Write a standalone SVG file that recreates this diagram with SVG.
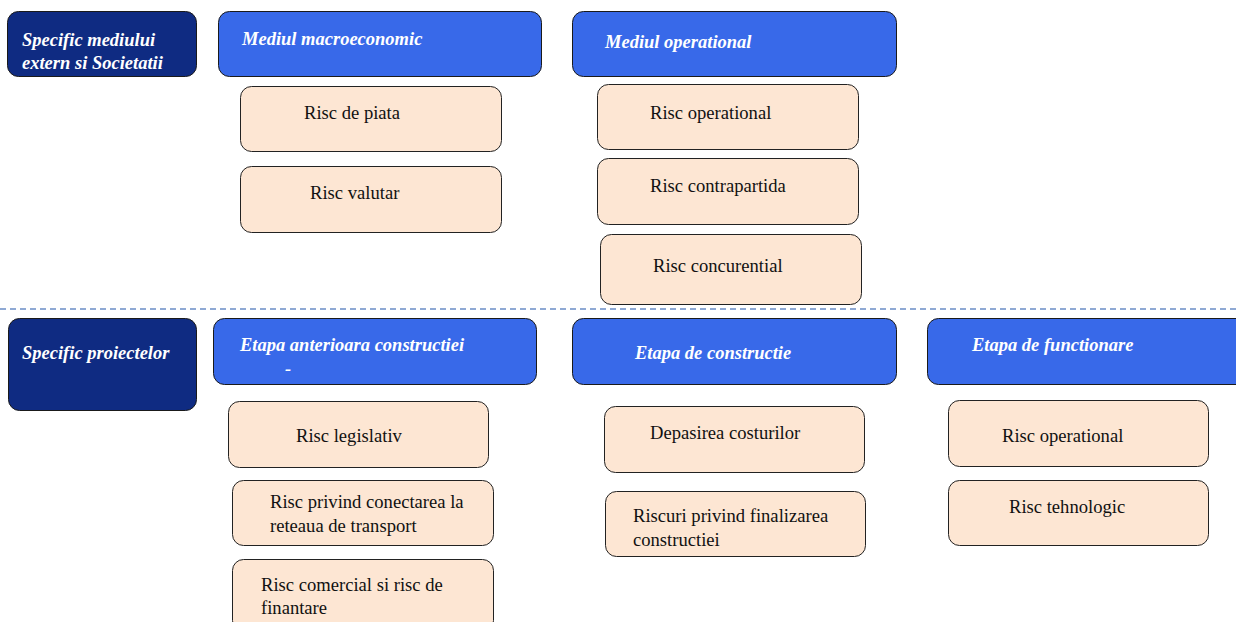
<svg xmlns="http://www.w3.org/2000/svg" width="1236" height="622" viewBox="0 0 1236 622">
<style>
.dark{fill:#0f2b82;stroke:#1a1a1a;stroke-width:1}
.hdr{fill:#3869e9;stroke:#1a1a1a;stroke-width:1}
.item{fill:#fde6d3;stroke:#222;stroke-width:1}
.ht{font-family:"Liberation Serif",serif;font-weight:bold;font-style:italic;font-size:18.5px;fill:#fff}
.it{font-family:"Liberation Serif",serif;font-size:18.6px;fill:#111}
.sep{stroke:#8fa9d4;stroke-width:2;stroke-dasharray:6 4;fill:none}
</style>
<rect width="1236" height="622" fill="#fff"/>
<g id="connectors">
<line class="sep" x1="0" y1="309" x2="1236" y2="309"/>
</g>
<g id="specific-extern"><rect class="dark" x="7.5" y="11.5" width="189" height="65" rx="11"/><text class="ht" x="22" y="46">Specific mediului</text><text class="ht" x="22" y="69">extern si Societatii</text></g>
<g id="mediul-macro"><rect class="hdr" x="218.5" y="11.5" width="323" height="65" rx="11"/><text class="ht" x="242" y="45">Mediul macroeconomic</text></g>
<g id="risc-piata"><rect class="item" x="240.5" y="86.5" width="261" height="65" rx="11"/><text class="it" x="304" y="119">Risc de piata</text></g>
<g id="risc-valutar"><rect class="item" x="240.5" y="166.5" width="261" height="66" rx="11"/><text class="it" x="310" y="199">Risc valutar</text></g>
<g id="mediul-operational"><rect class="hdr" x="572.5" y="11.5" width="324" height="65" rx="11"/><text class="ht" x="605" y="48">Mediul operational</text></g>
<g id="risc-operational-1"><rect class="item" x="597.5" y="84.5" width="261" height="65" rx="11"/><text class="it" x="650" y="119">Risc operational</text></g>
<g id="risc-contrapartida"><rect class="item" x="597.5" y="158.5" width="261" height="66" rx="11"/><text class="it" x="650" y="192">Risc contrapartida</text></g>
<g id="risc-concurential"><rect class="item" x="600.5" y="234.5" width="261" height="70" rx="11"/><text class="it" x="653" y="272">Risc concurential</text></g>
<g id="specific-proiectelor"><rect class="dark" x="8.5" y="318.5" width="188" height="92" rx="11"/><text class="ht" x="22" y="359">Specific proiectelor</text></g>
<g id="etapa-anterioara"><rect class="hdr" x="213.5" y="318.5" width="323" height="66" rx="11"/><text class="ht" x="240" y="351">Etapa anterioara constructiei</text><text class="ht" x="285" y="375">-</text></g>
<g id="etapa-constructie"><rect class="hdr" x="572.5" y="318.5" width="324" height="66" rx="11"/><text class="ht" x="635" y="359">Etapa de constructie</text></g>
<g id="etapa-functionare"><rect class="hdr" x="927.5" y="318.5" width="320" height="66" rx="11"/><text class="ht" x="972" y="351">Etapa de functionare</text></g>
<g id="risc-legislativ"><rect class="item" x="228.5" y="401.5" width="260" height="66" rx="11"/><text class="it" x="296" y="442">Risc legislativ</text></g>
<g id="risc-conectare"><rect class="item" x="232.5" y="480.5" width="261" height="65" rx="11"/><text class="it" x="270" y="508">Risc privind conectarea la</text><text class="it" x="270" y="532">reteaua de transport</text></g>
<g id="risc-comercial"><rect class="item" x="232.5" y="559.5" width="261" height="72" rx="11"/><text class="it" x="261" y="591">Risc comercial si risc de</text><text class="it" x="261" y="614">finantare</text></g>
<g id="depasirea-costurilor"><rect class="item" x="604.5" y="406.5" width="260" height="66" rx="11"/><text class="it" x="650" y="439">Depasirea costurilor</text></g>
<g id="riscuri-finalizare"><rect class="item" x="605.5" y="491.5" width="260" height="65" rx="11"/><text class="it" x="633" y="522">Riscuri privind finalizarea</text><text class="it" x="633" y="546">constructiei</text></g>
<g id="risc-operational-2"><rect class="item" x="948.5" y="400.5" width="260" height="66" rx="11"/><text class="it" x="1002" y="442">Risc operational</text></g>
<g id="risc-tehnologic"><rect class="item" x="948.5" y="480.5" width="260" height="65" rx="11"/><text class="it" x="1009" y="513">Risc tehnologic</text></g>
</svg>
